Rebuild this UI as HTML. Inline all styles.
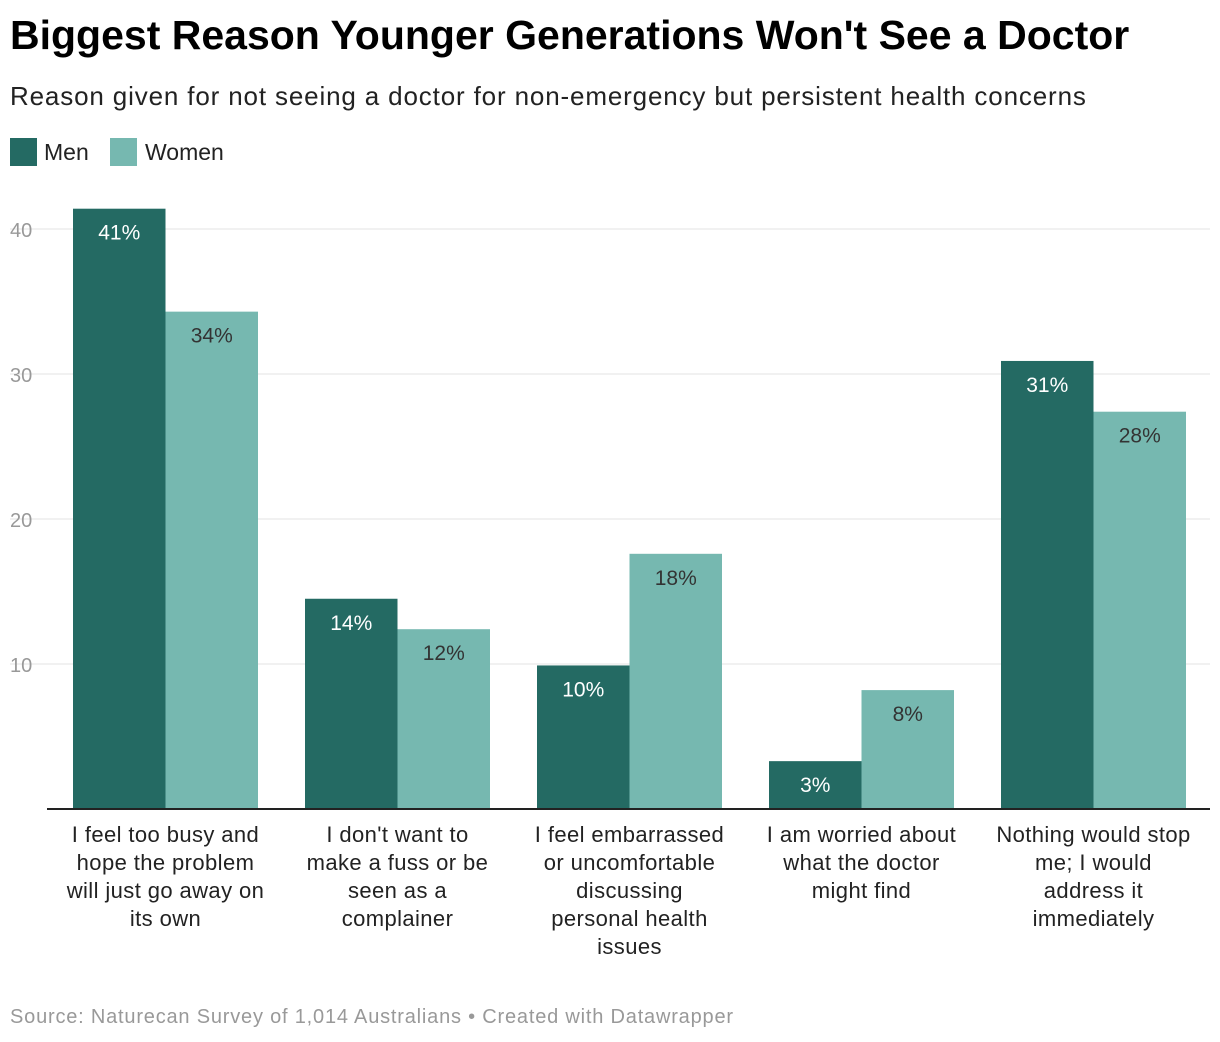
<!DOCTYPE html>
<html><head><meta charset="utf-8"><style>
body{margin:0;width:1220px;height:1042px;background:#fff;font-family:"Liberation Sans",sans-serif;overflow:hidden;position:relative}
.t{position:absolute;white-space:nowrap}
</style></head><body>
<div class="t" style="left:10px;top:12px;font-size:41px;font-weight:bold;color:#000;letter-spacing:0px">Biggest Reason Younger Generations Won't See a Doctor</div>
<div class="t" style="left:10px;top:81px;font-size:26px;color:#222;letter-spacing:0.85px">Reason given for not seeing a doctor for non-emergency but persistent health concerns</div>
<div>
<div class="t" style="left:10px;top:138px;width:27px;height:28px;background:#246a63"></div>
<div class="t" style="left:44px;top:139px;font-size:23px;color:#222">Men</div>
<div class="t" style="left:110px;top:138px;width:27px;height:28px;background:#76b8b0"></div>
<div class="t" style="left:145px;top:139px;font-size:23px;color:#222">Women</div>
</div>
<svg id="chart" width="1220" height="1042" style="position:absolute;left:0;top:0" font-family="Liberation Sans, sans-serif"></svg>
<div class="t" style="left:10px;top:1006px;font-size:20px;color:#999;letter-spacing:0.8px">Source: Naturecan Survey of 1,014 Australians • Created with Datawrapper</div>
<script>
const categories=[["I feel too busy and","hope the problem","will just go away on","its own"],["I don't want to","make a fuss or be","seen as a","complainer"],["I feel embarrassed","or uncomfortable","discussing","personal health","issues"],["I am worried about","what the doctor","might find"],["Nothing would stop","me; I would","address it","immediately"]];
const men=[41.4,14.5,9.9,3.3,30.9];
const women=[34.3,12.4,17.6,8.2,27.4];
const menLabels=["41%","14%","10%","3%","31%"];
const womenLabels=["34%","12%","18%","8%","28%"];
const ticks=[10,20,30,40];
const svg=document.getElementById('chart');const NS='http://www.w3.org/2000/svg';
function y(v){return 809-v*14.5}
function gx(i){return 73+i*232}
const bw=92.5;
function mk(tag,attrs,txt){const e=document.createElementNS(NS,tag);for(const k in attrs)e.setAttribute(k,attrs[k]);if(txt!==undefined)e.textContent=txt;svg.appendChild(e);return e}
ticks.forEach(t=>{
 const l=mk('line',{x1:10,x2:1210,y1:y(t),y2:y(t),stroke:'#e3e3e3','stroke-width':1});
 
 
 const tx=mk('text',{x:10,y:y(t)+8,'font-size':20,fill:'#999'},t);
 
 
});
categories.forEach((c,i)=>{
 const x0=gx(i);
 const b1=mk('rect',{x:x0,y:y(men[i]),width:bw,height:809-y(men[i]),fill:'#246a63'});
 
 
 const b2=mk('rect',{x:x0+bw,y:y(women[i]),width:bw,height:809-y(women[i]),fill:'#76b8b0'});
 
 
 const v1=mk('text',{x:x0+bw/2,y:y(men[i])+31,'font-size':21,fill:'#fff','text-anchor':'middle'},menLabels[i]);
 
 
 const v2=mk('text',{x:x0+bw*1.5,y:y(women[i])+31,'font-size':21,fill:'#333','text-anchor':'middle'},womenLabels[i]);
 
 
 c.forEach((line,j)=>{
  const tl=mk('text',{x:x0+bw,y:842+j*28,'font-size':22,fill:'#222','text-anchor':'middle','letter-spacing':0.4},line);
  
  
 });
});
const ax=mk('line',{x1:47,x2:1210,y1:809,y2:809,stroke:'#222','stroke-width':2});


</script>
</body></html>
